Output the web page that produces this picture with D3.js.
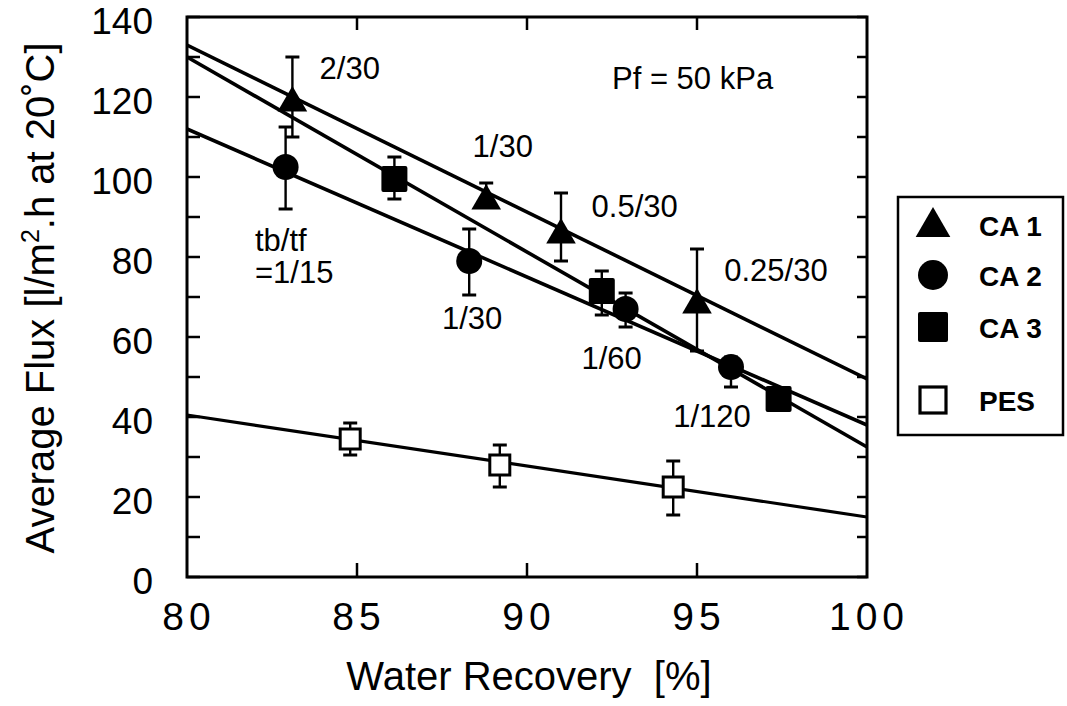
<!DOCTYPE html>
<html>
<head>
<meta charset="utf-8">
<script src="https://cdn.jsdelivr.net/npm/d3@7"></script>
<style>
  html, body { margin: 0; padding: 0; background: #fff; }
  svg { display: block; font-family: "Liberation Sans", Arial, Helvetica, sans-serif; }
</style>
</head>
<body>
<svg id="chart" width="1067" height="706"></svg>
<script>
// ---- data ----
const xTicks = [80, 85, 90, 95, 100];
const yTicks = [0, 20, 40, 60, 80, 100, 120, 140];
const yMinorTicks = [0, 10, 20, 30, 40, 50, 60, 70, 80, 90, 100, 110, 120, 130, 140];

// points: [x, y, errLow, errHigh]
const ca1 = [[83.1, 119, 110, 130], [88.8, 94.5, 94.5, 98.5], [91.0, 86, 79, 96], [95.0, 68.5, 56.5, 82]];
const ca2 = [[82.9, 102.5, 92, 112.5], [88.3, 79, 70.5, 87], [92.9, 67, 62.5, 71], [96.0, 52.5, 47.5, 55]];
const ca3 = [[86.1, 99.5, 94.5, 105], [92.2, 71.5, 65.5, 76.5], [97.4, 44.5, 42, 46.5]];
const pes = [[84.8, 34.5, 30.5, 38.5], [89.2, 28, 22.5, 33], [94.3, 22.5, 15.5, 29]];

// regression lines: [x, y] end points
const fitCA1 = [[80, 133], [100, 49.5]];
const fitCA2 = [[80, 112], [100, 38]];
const fitCA3 = [[80, 130], [100, 32.5]];
const fitPES = [[80, 40.5], [100, 15]];

// annotations: [text, x, y]
const notes = [
  ["2/30", 83.9, 124.5],
  ["1/30", 88.4, 105],
  ["0.5/30", 91.9, 90],
  ["0.25/30", 95.8, 74],
  ["tb/tf", 82.0, 81.5],
  ["=1/15", 82.0, 73.5],
  ["1/30", 87.5, 62],
  ["1/60", 91.6, 52],
  ["1/120", 94.3, 37.5],
  ["Pf = 50 kPa", 92.5, 122]
];

const legendItems = ["CA 1", "CA 2", "CA 3", "PES"];

// ---- layout ----
const svg = d3.select("#chart");
const L = 187, R = 867, T = 17, B = 577;
const x = d3.scaleLinear().domain([80, 100]).range([L, R]);
const y = d3.scaleLinear().domain([0, 140]).range([B, T]);

// fit lines
const line = d3.line().x(d => x(d[0])).y(d => y(d[1]));
svg.append("clipPath").attr("id", "plotclip")
  .append("rect").attr("x", L).attr("y", T).attr("width", R - L).attr("height", B - T);
const plot = svg.append("g").attr("clip-path", "url(#plotclip)");
[fitCA1, fitCA2, fitCA3].forEach(f => {
  plot.append("path").attr("d", line(f)).attr("fill", "none").attr("stroke", "#000").attr("stroke-width", 3.6);
});
plot.append("path").attr("d", line(fitPES)).attr("fill", "none").attr("stroke", "#000").attr("stroke-width", 3.2);

// error bars
function errBars(data) {
  const g = svg.append("g").attr("stroke", "#000");
  data.forEach(d => {
    g.append("line").attr("x1", x(d[0])).attr("x2", x(d[0])).attr("y1", y(d[2])).attr("y2", y(d[3])).attr("stroke-width", 2.4);
    [d[2], d[3]].forEach(v => {
      g.append("line").attr("x1", x(d[0]) - 7).attr("x2", x(d[0]) + 7).attr("y1", y(v)).attr("y2", y(v)).attr("stroke-width", 3);
    });
  });
}
[ca1, ca2, ca3, pes].forEach(errBars);

// markers
const tri = d3.symbol().type(d3.symbolTriangle).size(380);
svg.append("g").selectAll("path").data(ca1).join("path")
  .attr("d", tri).attr("transform", d => `translate(${x(d[0])},${y(d[1]) + 2})`).attr("fill", "#000");
svg.append("g").selectAll("circle").data(ca2).join("circle")
  .attr("cx", d => x(d[0])).attr("cy", d => y(d[1])).attr("r", 13).attr("fill", "#000");
svg.append("g").selectAll("rect").data(ca3).join("rect")
  .attr("x", d => x(d[0]) - 13).attr("y", d => y(d[1]) - 13).attr("width", 26).attr("height", 26)
  .attr("rx", 2).attr("fill", "#000");
svg.append("g").selectAll("rect").data(pes).join("rect")
  .attr("x", d => x(d[0]) - 10).attr("y", d => y(d[1]) - 10).attr("width", 20).attr("height", 20)
  .attr("fill", "#fff").attr("stroke", "#000").attr("stroke-width", 3);

// frame
svg.append("rect").attr("x", L).attr("y", T).attr("width", R - L).attr("height", B - T)
  .attr("fill", "none").attr("stroke", "#000").attr("stroke-width", 3);

// ticks (inward, mirrored)
const tk = svg.append("g").attr("stroke", "#000").attr("stroke-width", 2.5);
yMinorTicks.forEach(v => {
  tk.append("line").attr("x1", L).attr("x2", L + 13).attr("y1", y(v)).attr("y2", y(v));
  tk.append("line").attr("x1", R).attr("x2", R - 10).attr("y1", y(v)).attr("y2", y(v));
});
xTicks.slice(1, -1).forEach(v => {
  tk.append("line").attr("x1", x(v)).attr("x2", x(v)).attr("y1", B).attr("y2", B - 14);
  tk.append("line").attr("x1", x(v)).attr("x2", x(v)).attr("y1", T).attr("y2", T + 13);
});

// tick labels
svg.append("g").selectAll("text").data(yTicks).join("text")
  .attr("x", 153).attr("y", d => y(d) + 4).attr("dy", "0.36em")
  .attr("text-anchor", "end").attr("font-size", 37).text(d => d);
svg.append("g").selectAll("text").data(xTicks).join("text")
  .attr("x", d => x(d) + 2).attr("y", 630)
  .attr("text-anchor", "middle").attr("font-size", 39).attr("letter-spacing", 5).text(d => d);

// axis titles
svg.append("text").attr("x", 529).attr("y", 690).attr("text-anchor", "middle")
  .attr("font-size", 40).attr("xml:space", "preserve").text("Water Recovery  [%]");
const yt = svg.append("text").attr("transform", "translate(54,298) rotate(-90)")
  .attr("text-anchor", "middle").attr("font-size", 40);
yt.append("tspan").text("Average Flux [l/m");
yt.append("tspan").attr("font-size", 25).attr("dy", -15).text("2");
yt.append("tspan").attr("dy", 15).text(".h at 20˚C]");

// annotations
svg.append("g").selectAll("text").data(notes).join("text")
  .attr("x", d => x(d[1])).attr("y", d => y(d[2]))
  .attr("font-size", 31).text(d => d[0]);

// legend
const lg = svg.append("g");
lg.append("rect").attr("x", 898).attr("y", 197).attr("width", 165).attr("height", 238)
  .attr("fill", "none").attr("stroke", "#000").attr("stroke-width", 2.5);
const ly = [225, 275, 327, 400];
lg.append("path").attr("d", d3.symbol().type(d3.symbolTriangle).size(520))
  .attr("transform", `translate(933,${ly[0] + 2})`).attr("fill", "#000");
lg.append("circle").attr("cx", 933).attr("cy", ly[1]).attr("r", 15).attr("fill", "#000");
lg.append("rect").attr("x", 918).attr("y", ly[2] - 15).attr("width", 30).attr("height", 30).attr("rx", 2).attr("fill", "#000");
lg.append("rect").attr("x", 920).attr("y", ly[3] - 13).attr("width", 26).attr("height", 26)
  .attr("fill", "#fff").attr("stroke", "#000").attr("stroke-width", 3.2);
lg.selectAll("text").data(legendItems).join("text")
  .attr("x", 979).attr("y", (d, i) => ly[i] + 11)
  .attr("font-size", 28).attr("font-weight", "bold").text(d => d);
</script>
</body>
</html>
